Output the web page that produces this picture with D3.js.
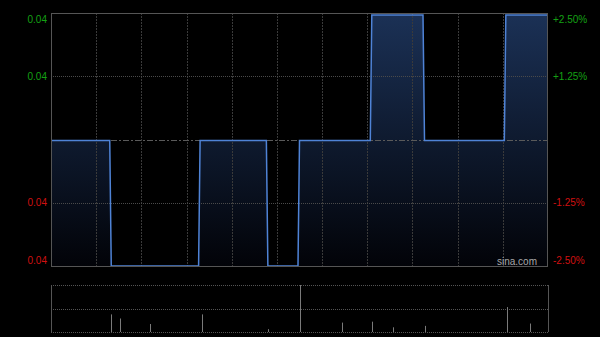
<!DOCTYPE html>
<html>
<head>
<meta charset="utf-8">
<script src="https://cdn.jsdelivr.net/npm/d3@7"></script>
<style>
  body { margin: 0; background: #000; }
  svg { display: block; font-family: "Liberation Sans", Arial, sans-serif; }
</style>
</head>
<body>
<script>
// Intraday price data (HH:MM, price)
let prevClose = 0.04;
let times = ["09:30", "10:09", "10:10", "11:08", "11:09", "11:53", "11:54", "13:14",
  "13:15", "14:02", "14:03", "14:37", "14:38", "15:31", "15:32", "16:00"];
let prices = [0.040, 0.040, 0.039, 0.039, 0.040, 0.040, 0.039, 0.039,
  0.040, 0.040, 0.041, 0.041, 0.040, 0.040, 0.041, 0.041];

// Volume data
let volTimes = ["10:10", "10:16", "10:36", "11:10", "11:54", "13:15", "13:43",
  "14:03", "14:17", "14:38", "15:33", "15:48"];
let volumes = [150000, 115000, 68000, 150000, 24000, 400000, 80000,
  88000, 40000, 52000, 212000, 72000];

// Percent ticks
let pctTicks = [2.5, 1.25, 0, -1.25, -2.5];
let pctLabels = ["+2.50%", "+1.25%", "", "-1.25%", "-2.50%"];

let width = 600;
let height = 337;
let plotLeft = 51;
let plotRight = 548;
let plotTop = 13;
let plotBottom = 266;
let volTop = 285;
let volBottom = 332;

// trading minutes since 09:30 (lunch break 12:00-13:00)
function tradeMinute(t) {
  let p = t.split(":");
  let m = +p[0] * 60 + +p[1];
  if (m >= 13 * 60) return m - 13 * 60 + 150;
  return m - (9 * 60 + 30);
}

let svg = d3.select("body").append("svg")
  .attr("width", width)
  .attr("height", height);

let xScale = d3.scaleLinear().domain([0, 330]).range([plotLeft, plotRight]);
let pctScale = d3.scaleLinear().domain([-2.5, 2.5]).range([plotBottom, plotTop]);
// line sits a touch below the top border
let priceScale = d3.scaleLinear()
  .domain([prevClose * (1 - 0.025), prevClose * (1 + 0.025)])
  .range([plotBottom, plotTop + 2]);
let volScale = d3.scaleLinear().domain([0, d3.max(volumes)]).range([volBottom, volTop]);

let data = times.map((t, i) => ({ m: tradeMinute(t), p: prices[i] }));

// Gradient for area
let defs = svg.append("defs");
let grad = defs.append("linearGradient")
  .attr("id", "areaGrad")
  .attr("gradientUnits", "userSpaceOnUse")
  .attr("x1", 0).attr("x2", 0)
  .attr("y1", plotTop).attr("y2", plotBottom);
grad.append("stop").attr("offset", "0%").attr("stop-color", "#1b3156");
grad.append("stop").attr("offset", "100%").attr("stop-color", "#020308");

// Area under the line
let area = d3.area()
  .x((d) => xScale(d.m))
  .y0(plotBottom)
  .y1((d) => priceScale(d.p));

svg.append("path")
  .datum(data)
  .attr("d", area)
  .attr("fill", "url(#areaGrad)");

// Vertical grid lines every 30 minutes
let vTicks = d3.range(30, 330, 30);
svg.append("g")
  .selectAll("line")
  .data(vTicks)
  .enter()
  .append("line")
  .attr("x1", (d) => Math.round(xScale(d)) + 0.5)
  .attr("x2", (d) => Math.round(xScale(d)) + 0.5)
  .attr("y1", plotTop)
  .attr("y2", plotBottom)
  .attr("stroke", "#3a3a3a")
  .attr("stroke-dasharray", "2,1");

// Horizontal grid lines
svg.append("g")
  .selectAll("line")
  .data([1.25, 0, -1.25])
  .enter()
  .append("line")
  .attr("x1", plotLeft)
  .attr("x2", plotRight)
  .attr("y1", (d) => Math.round(pctScale(d)) + 0.5)
  .attr("y2", (d) => Math.round(pctScale(d)) + 0.5)
  .attr("stroke", (d) => (d === 0 ? "#5a5a5a" : "#4a4a4a"))
  .attr("stroke-dasharray", (d) => (d === 0 ? "6,2,2,2" : "1,1"));

// Price line
let line = d3.line()
  .x((d) => xScale(d.m))
  .y((d) => priceScale(d.p));

svg.append("path")
  .datum(data)
  .attr("d", line)
  .attr("fill", "none")
  .attr("stroke", "#4f83d6")
  .attr("stroke-width", 1.5);

// Main chart border
svg.append("rect")
  .attr("x", plotLeft + 0.5)
  .attr("y", plotTop + 0.5)
  .attr("width", plotRight - plotLeft - 1)
  .attr("height", plotBottom - plotTop)
  .attr("fill", "none")
  .attr("stroke", "#555");

// Left price labels
svg.append("g")
  .selectAll("text")
  .data(pctTicks.filter((d) => d !== 0))
  .enter()
  .append("text")
  .attr("x", 47)
  .attr("y", (d) => Math.min(Math.max(pctScale(d), 19), 260))
  .attr("dy", "0.35em")
  .attr("text-anchor", "end")
  .attr("font-size", "10px")
  .attr("fill", (d) => (d > 0 ? "#14a014" : "#d01010"))
  .text((d) => (prevClose * (1 + d / 100)).toFixed(2));

// Right percent labels
svg.append("g")
  .selectAll("text")
  .data(pctTicks.filter((d) => d !== 0))
  .enter()
  .append("text")
  .attr("x", 553)
  .attr("y", (d) => Math.min(Math.max(pctScale(d), 19), 260))
  .attr("dy", "0.35em")
  .attr("font-size", "10px")
  .attr("fill", (d) => (d > 0 ? "#14a014" : "#d01010"))
  .text((d) => pctLabels[pctTicks.indexOf(d)]);

// Watermark
svg.append("text")
  .attr("x", 537)
  .attr("y", 261)
  .attr("dy", "0.35em")
  .attr("text-anchor", "end")
  .attr("font-size", "10px")
  .attr("fill", "#a8a8a8")
  .text("sina.com");

// Volume chart grid
svg.append("g")
  .selectAll("line")
  .data([0, 0.5, 1])
  .enter()
  .append("line")
  .attr("x1", plotLeft)
  .attr("x2", plotRight)
  .attr("y1", (d) => Math.round(volScale(d * d3.max(volumes))) + 0.5)
  .attr("y2", (d) => Math.round(volScale(d * d3.max(volumes))) + 0.5)
  .attr("stroke", "#555")
  .attr("stroke-dasharray", "1,1");

svg.append("g")
  .selectAll("line")
  .data([plotLeft, plotRight])
  .enter()
  .append("line")
  .attr("x1", (d) => d + 0.5)
  .attr("x2", (d) => d + 0.5)
  .attr("y1", volTop)
  .attr("y2", volBottom)
  .attr("stroke", "#555");

// Volume bars
svg.append("g")
  .selectAll("line")
  .data(volumes)
  .enter()
  .append("line")
  .attr("x1", (d, i) => Math.round(xScale(tradeMinute(volTimes[i]))) + 0.5)
  .attr("x2", (d, i) => Math.round(xScale(tradeMinute(volTimes[i]))) + 0.5)
  .attr("y1", volBottom)
  .attr("y2", (d) => volScale(d))
  .attr("stroke", "#7a7a7a");
</script>
</body>
</html>
